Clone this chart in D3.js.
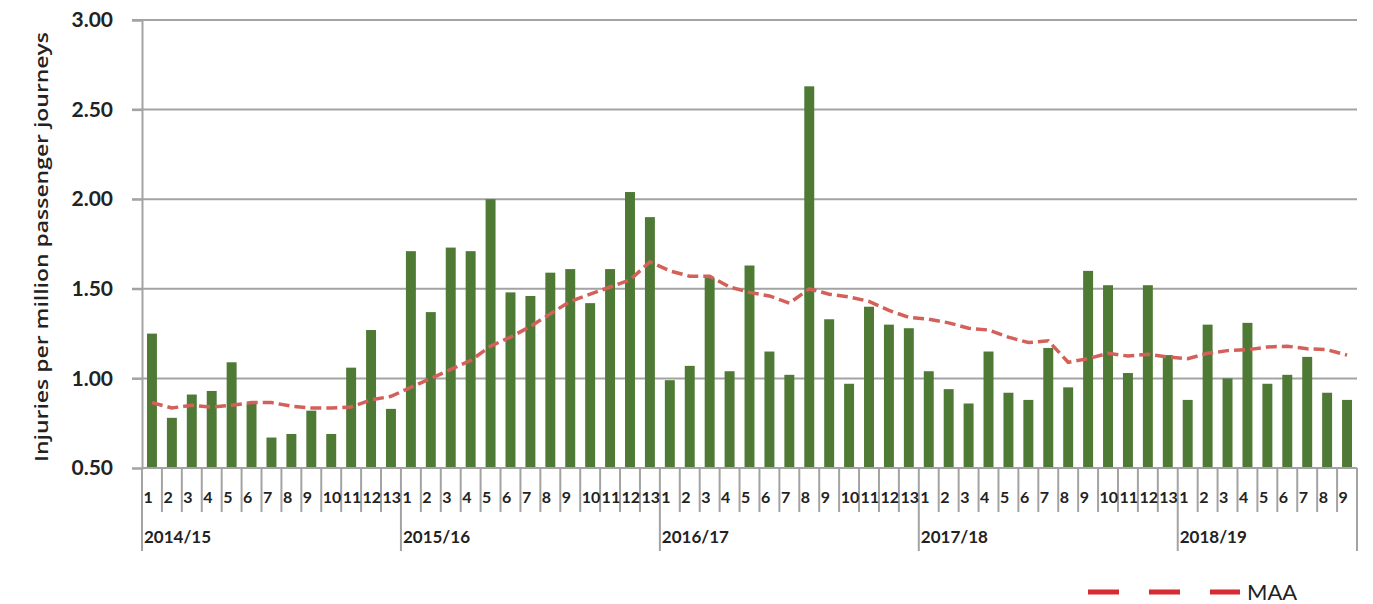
<!DOCTYPE html>
<html>
<head>
<meta charset="utf-8">
<script src="https://cdn.jsdelivr.net/npm/d3@7/dist/d3.min.js"></script>
<style>
  body { margin: 0; background: #fff; }
  text { font-family: Lato, "Open Sans", sans-serif; fill: #222; }
</style>
</head>
<body>
<div id="wrapper"></div>
<script>
// financial years and the period labels under each bar
const yearLabels = ["2014/15", "2015/16", "2016/17", "2017/18", "2018/19"];
const periodLabels = [
  "1","2","3","4","5","6","7","8","9","10","11","12","13",
  "1","2","3","4","5","6","7","8","9","10","11","12","13",
  "1","2","3","4","5","6","7","8","9","10","11","12","13",
  "1","2","3","4","5","6","7","8","9","10","11","12","13",
  "1","2","3","4","5","6","7","8","9"
];
// injuries per million passenger journeys (bars)
const injuries = [
  1.25, 0.78, 0.91, 0.93, 1.09, 0.86, 0.67, 0.69, 0.82, 0.69, 1.06, 1.27, 0.83,
  1.71, 1.37, 1.73, 1.71, 2.00, 1.48, 1.46, 1.59, 1.61, 1.42, 1.61, 2.04, 1.90,
  0.99, 1.07, 1.56, 1.04, 1.63, 1.15, 1.02, 2.63, 1.33, 0.97, 1.40, 1.30, 1.28,
  1.04, 0.94, 0.86, 1.15, 0.92, 0.88, 1.17, 0.95, 1.60, 1.52, 1.03, 1.52, 1.13,
  0.88, 1.30, 1.00, 1.31, 0.97, 1.02, 1.12, 0.92, 0.88
];
// moving annual average (dashed line)
const maa = [
  0.865, 0.835, 0.85, 0.84, 0.85, 0.865, 0.865, 0.845, 0.835, 0.835, 0.84, 0.88, 0.90,
  0.95, 1.00, 1.05, 1.10, 1.18, 1.23, 1.29, 1.36, 1.43, 1.47, 1.51, 1.55, 1.65,
  1.60, 1.57, 1.57, 1.51, 1.48, 1.46, 1.42, 1.50, 1.47, 1.455, 1.43, 1.38, 1.34,
  1.33, 1.31, 1.28, 1.27, 1.23, 1.20, 1.21, 1.09, 1.11, 1.14, 1.125, 1.135, 1.12,
  1.11, 1.14, 1.155, 1.16, 1.175, 1.18, 1.165, 1.16, 1.13
];
const yTicks = [0.5, 1.0, 1.5, 2.0, 2.5, 3.0];

// build rows: each period gets its year (new year starts at period "1")
let yi = -1;
const rows = periodLabels.map((p, i) => {
  if (p === "1") yi++;
  return { key: i, period: p, year: yearLabels[yi], value: injuries[i], maa: maa[i] };
});

const dimensions = {
  width: 1373,
  height: 604,
  margin: { top: 20, right: 16, bottom: 136, left: 142 }
};
dimensions.boundedWidth = dimensions.width - dimensions.margin.left - dimensions.margin.right;
dimensions.boundedHeight = dimensions.height - dimensions.margin.top - dimensions.margin.bottom;

const svg = d3.select("#wrapper").append("svg")
  .attr("width", dimensions.width)
  .attr("height", dimensions.height);
const bounds = svg.append("g")
  .attr("transform", `translate(${dimensions.margin.left},${dimensions.margin.top})`);

const xScale = d3.scaleBand()
  .domain(rows.map(d => d.key))
  .range([0, dimensions.boundedWidth])
  .paddingInner(0.5)
  .paddingOuter(0.25);
// band slots (ticks sit on slot edges)
const slot = d3.scaleBand().domain(rows.map(d => d.key)).range([0, dimensions.boundedWidth]);
const yScale = d3.scaleLinear().domain([0.5, 3]).range([dimensions.boundedHeight, 0]);

const grey = "#a3a3a3";

// gridlines
bounds.append("g").selectAll("line")
  .data(yTicks.filter(t => t > 0.5))
  .join("line")
  .attr("x1", -10).attr("x2", dimensions.boundedWidth)
  .attr("y1", d => yScale(d)).attr("y2", d => yScale(d))
  .attr("stroke", grey).attr("stroke-width", 2);

// y axis
const yAxis = bounds.append("g")
  .call(d3.axisLeft(yScale).tickValues(yTicks).tickFormat(d3.format(".2f")).tickSize(10).tickPadding(19));
yAxis.select(".domain").attr("stroke", grey).attr("stroke-width", 2);
yAxis.selectAll(".tick line").attr("stroke", grey).attr("stroke-width", 2);
yAxis.selectAll(".tick text")
  .style("font-family", "Lato, sans-serif")
  .style("font-size", "21px").style("font-weight", "bold").attr("fill", "#222");

// bars
bounds.append("g").selectAll("rect")
  .data(rows)
  .join("rect")
  .attr("x", d => xScale(d.key))
  .attr("width", xScale.bandwidth())
  .attr("y", d => yScale(d.value))
  .attr("height", d => dimensions.boundedHeight - yScale(d.value))
  .attr("fill", "#4f7a35");

// moving annual average
const line = d3.line()
  .x(d => xScale(d.key) + xScale.bandwidth() / 2)
  .y(d => yScale(d.maa));
bounds.append("path")
  .datum(rows)
  .attr("d", line)
  .attr("fill", "none")
  .attr("stroke", "#d4605a")
  .attr("stroke-width", 3.5)
  .attr("stroke-dasharray", "11,5");

// x axis line
bounds.append("line")
  .attr("x1", 0).attr("x2", dimensions.boundedWidth)
  .attr("y1", dimensions.boundedHeight).attr("y2", dimensions.boundedHeight)
  .attr("stroke", grey).attr("stroke-width", 2);

// period ticks and labels
const xAxis = bounds.append("g").attr("transform", `translate(0,${dimensions.boundedHeight})`);
xAxis.selectAll("line.period")
  .data(rows)
  .join("line")
  .attr("class", "period")
  .attr("x1", d => slot(d.key)).attr("x2", d => slot(d.key))
  .attr("y1", 0)
  .attr("y2", d => d.period === "1" ? 83 : 44)
  .attr("stroke", grey).attr("stroke-width", 2);
xAxis.append("line")
  .attr("x1", dimensions.boundedWidth).attr("x2", dimensions.boundedWidth)
  .attr("y1", 0).attr("y2", 83)
  .attr("stroke", grey).attr("stroke-width", 2);
xAxis.selectAll("text.period")
  .data(rows)
  .join("text")
  .attr("class", "period")
  .attr("x", d => slot(d.key) + 1.5)
  .attr("y", 35)
  .style("font-size", "16px").style("font-weight", "bold")
  .text(d => d.period);
xAxis.selectAll("text.year")
  .data(rows.filter(d => d.period === "1"))
  .join("text")
  .attr("class", "year")
  .attr("x", d => slot(d.key) + 2)
  .attr("y", 75)
  .style("font-size", "17px").style("font-weight", "bold")
  .text(d => d.year);

// y axis title
svg.append("text")
  .attr("transform", "translate(48,247) rotate(-90)")
  .attr("text-anchor", "middle")
  .attr("textLength", 430)
  .attr("lengthAdjust", "spacingAndGlyphs")
  .style("font-family", "'Open Sans', sans-serif")
  .style("font-size", "18px")
  .style("font-weight", 600)
  .attr("fill", "#333")
  .text("Injuries per million passenger journeys");

// legend
svg.append("line")
  .attr("x1", 1088).attr("x2", 1240)
  .attr("y1", 592).attr("y2", 592)
  .attr("stroke", "#d52b33").attr("stroke-width", 5)
  .attr("stroke-dasharray", "31,30");
svg.append("text")
  .attr("x", 1247).attr("y", 600)
  .style("font-size", "22px")
  .text("MAA");
</script>
</body>
</html>
